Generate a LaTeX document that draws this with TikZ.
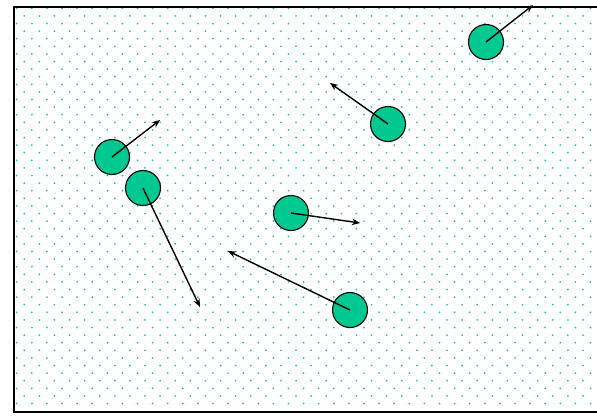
\documentclass[tikz,border=0pt]{standalone}
\usetikzlibrary{arrows.meta}
\definecolor{ballgreen}{RGB}{0,200,145}
\definecolor{dotgreen}{RGB}{30,200,155}
\tikzset{
  ball/.style={circle, draw=black, line width=1.1pt, fill=ballgreen, minimum size=35pt, inner sep=0pt},
  vec/.style={line width=1.4pt, -{Stealth[length=8pt,width=6.5pt]}},
  dotmark/.style={fill=dotgreen}
}
\begin{document}
\begin{tikzpicture}[x=1pt,y=-1pt]
\useasboundingbox (0,0) rectangle (597,416);
\fill[white] (0,0) rectangle (597,416);
% dotted background
\foreach \k in {0,...,26}{
  \foreach \i in {0,...,38}{
    \fill[dotmark] ({16.7+15.1*\i},{8.3+15.2*\k}) circle (1.0);
  }
}
\foreach \k in {0,...,25}{
  \foreach \i in {0,...,37}{
    \fill[dotmark] ({24.25+15.1*\i},{15.9+15.2*\k}) circle (1.0);
  }
}
% frame (right side cut off)
\draw[line width=2pt] (597,7) -- (14,7) -- (14,412) -- (597,412);
% balls
\node[ball] (b1) at (486,42) {};
\node[ball] (b2) at (388,124) {};
\node[ball] (b3) at (112,157) {};
\node[ball] (b4) at (143,188) {};
\node[ball] (b5) at (291,213) {};
\node[ball] (b6) at (350,310) {};
% arrow tips
\coordinate (t1) at (533,5);
\coordinate (t2) at (330,83);
\coordinate (t3) at (160,120);
\coordinate (t4) at (200,307);
\coordinate (t5) at (360,223);
\coordinate (t6) at (228,251);
\draw[vec] (b1.center) -- (t1);
\draw[vec] (b2.center) -- (t2);
\draw[vec] (b3.center) -- (t3);
\draw[vec] (b4.center) -- (t4);
\draw[vec] (b5.center) -- (t5);
\draw[vec] (b6.center) -- (t6);
\end{tikzpicture}
\end{document}
